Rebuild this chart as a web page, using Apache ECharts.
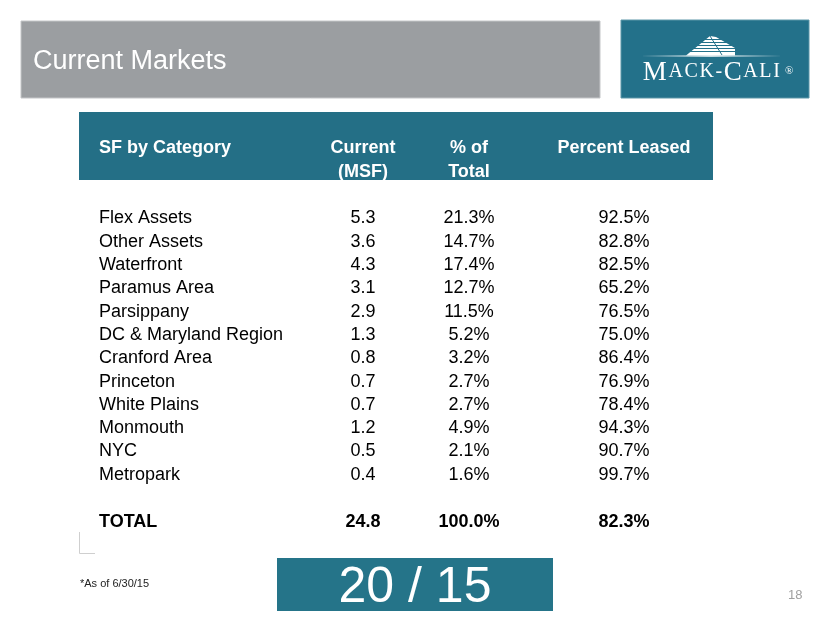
<!DOCTYPE html>
<html><head><meta charset="utf-8">
<script src="https://cdn.jsdelivr.net/npm/echarts@6/dist/echarts.min.js"></script>
<style>html,body{margin:0;padding:0;background:#fff}#c{width:830px;height:623px}</style>
</head><body><div id="c"></div>
<script>
// ---- data ----
const titleText = 'Current Markets';
const headerLabels = ['SF by Category', 'Current\n(MSF)', '% of\nTotal', 'Percent Leased'];
const categories = ['Flex Assets','Other Assets','Waterfront','Paramus Area','Parsippany','DC & Maryland Region','Cranford Area','Princeton','White Plains','Monmouth','NYC','Metropark'];
const currentMSF = [5.3,3.6,4.3,3.1,2.9,1.3,0.8,0.7,0.7,1.2,0.5,0.4];
const pctOfTotal = [21.3,14.7,17.4,12.7,11.5,5.2,3.2,2.7,2.7,4.9,2.1,1.6];
const pctLeased = [92.5,82.8,82.5,65.2,76.5,75.0,86.4,76.9,78.4,94.3,90.7,99.7];
const totalLabel = 'TOTAL';
const totalMSF = 24.8;
const totalPct = 100.0;
const totalLeased = 82.3;
const footnote = '*As of 6/30/15';
const yearLabel = '20 / 15';
const pageNumber = '18';

// ---- layout ----
const FONT = '"Liberation Sans", Arial, sans-serif';
const SERIF = '"Liberation Serif", "Times New Roman", serif';
const TEAL = '#246f86';
const colX = [99, 363, 469, 624];
const DY = 1.5;
const rowY0 = 217 + DY, rowStep = 23.3, totalY = 521 + DY;

const g = [];
// header band
g.push({type:'rect', shape:{x:21,y:21,width:579,height:77}, style:{fill:'#9b9ea1', stroke:'#c4c6c8', lineWidth:1}});
g.push({type:'text', x:33, y:61.5, style:{text:titleText, fill:'#fff', font:'27px '+FONT, verticalAlign:'middle', align:'left'}});
// logo
g.push({type:'rect', shape:{x:621,y:20,width:188,height:78}, style:{fill:'#23718a', stroke:'#5d97a8', lineWidth:1}});
g.push({type:'polygon', shape:{points:[[686,55.5],[710,36],[716,37],[735,48],[735,55.5]]}, style:{fill:'#ffffff'}});
[39.5,42.5,45.5,48.5,51.5].forEach(function(y){
  g.push({type:'line', shape:{x1:684,y1:y,x2:737,y2:y}, style:{stroke:'#23718a', lineWidth:1.1}});
});
g.push({type:'line', shape:{x1:710,y1:36,x2:722,y2:55}, style:{stroke:'#23718a', lineWidth:1}});
g.push({type:'polygon', shape:{points:[[640,56],[711,55.2],[783,56],[711,56.8]]}, style:{fill:'#ffffff'}});
g.push({type:'text', x:642, y:86, style:{
  text:'{b|M}{s|A}{s|C}{s|K}{h|-}{b|C}{s|A}{s|L}{s|I}',
  align:'left', verticalAlign:'bottom', fill:'#fff',
  rich:{
    b:{fontFamily:SERIF, fontSize:27, fill:'#fff', padding:[0,0.8,0,0.8]},
    s:{fontFamily:SERIF, fontSize:20, fill:'#fff', padding:[0,0.8,1.5,0.8]},
    h:{fontFamily:SERIF, fontSize:20, fill:'#fff', padding:[0,0.8,1.5,0.8]}
  }}});
g.push({type:'text', x:785, y:71, style:{text:'®', fill:'#fff', font:'11px '+SERIF, verticalAlign:'middle', align:'left'}});

// table header
g.push({type:'rect', shape:{x:79,y:112,width:634,height:68}, style:{fill:TEAL}});
headerLabels.forEach(function(lbl, i){
  lbl.split('\n').forEach(function(line, j){
    g.push({type:'text', x:colX[i], y:147 + DY + j*24, style:{
      text:line, fill:'#fff', font:'bold 18px '+FONT,
      align: i===0 ? 'left' : 'center', verticalAlign:'middle'}});
  });
});

// rows
function cell(x, y, txt, align, bold){
  g.push({type:'text', x:x, y:y, style:{text:txt, fill:'#000', font:(bold?'bold ':'')+'18px '+FONT, align:align, verticalAlign:'middle'}});
}
categories.forEach(function(cat, i){
  const y = rowY0 + i*rowStep;
  cell(colX[0], y, cat, 'left', false);
  cell(colX[1], y, currentMSF[i].toFixed(1), 'center', false);
  cell(colX[2], y, pctOfTotal[i].toFixed(1)+'%', 'center', false);
  cell(colX[3], y, pctLeased[i].toFixed(1)+'%', 'center', false);
});
cell(colX[0], totalY, totalLabel, 'left', true);
cell(colX[1], totalY, totalMSF.toFixed(1), 'center', true);
cell(colX[2], totalY, totalPct.toFixed(1)+'%', 'center', true);
cell(colX[3], totalY, totalLeased.toFixed(1)+'%', 'center', true);

// corner mark
g.push({type:'polyline', shape:{points:[[79.5,532],[79.5,553.5],[95,553.5]]}, style:{stroke:'#cfcfcf', lineWidth:1, fill:null}});
// footnote
g.push({type:'text', x:80, y:584, style:{text:footnote, fill:'#222', font:'11px '+FONT, align:'left', verticalAlign:'middle'}});
// year box
g.push({type:'rect', shape:{x:277,y:558,width:276,height:53}, style:{fill:'#257489'}});
g.push({type:'text', x:415, y:588, style:{text:yearLabel, fill:'#fff', font:'50px '+FONT, align:'center', verticalAlign:'middle'}});
// page number
g.push({type:'text', x:788, y:595, style:{text:pageNumber, fill:'#a0a0a0', font:'13px '+FONT, align:'left', verticalAlign:'middle'}});

const chart = echarts.init(document.getElementById('c'), null, {renderer:'canvas', width:830, height:623});
chart.setOption({backgroundColor:'#ffffff', animation:false, graphic:{elements:g}});
</script></body></html>
